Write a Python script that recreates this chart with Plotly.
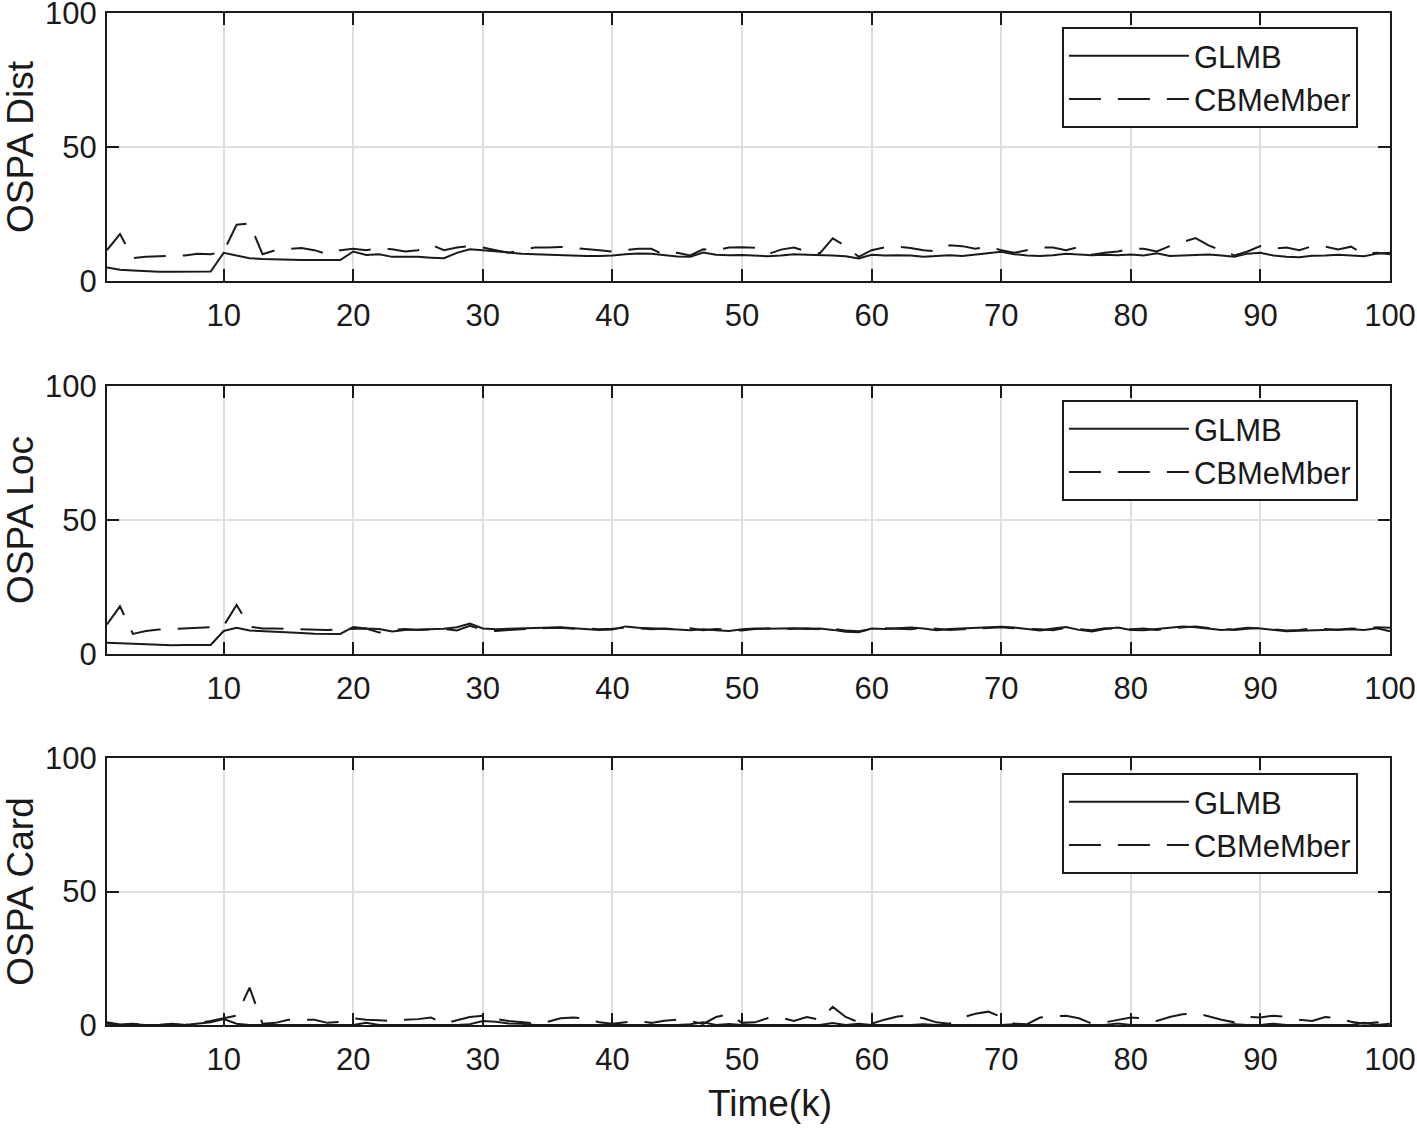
import plotly.graph_objects as go

k = list(range(1, 101))

glmb_dist = [5.0, 4.2, 3.9, 3.6, 3.4, 3.4, 3.5, 3.5, 3.5, 10.5,
             9.5, 8.5, 8.2, 8.0, 8.0, 7.8, 7.8, 7.8, 7.8, 11.0,
             9.7, 10.0, 9.0, 9.0, 9.0, 8.7, 8.5, 10.5, 11.8, 11.5,
             11.0, 10.5, 10.2, 10.0, 9.8, 9.7, 9.5, 9.3, 9.3, 9.5,
             10.0, 10.3, 10.2, 9.6, 9.1, 9.0, 10.6, 9.8, 9.6, 9.7,
             9.5, 9.2, 9.5, 10.0, 9.8, 9.7, 9.5, 9.2, 8.4, 9.8,
             9.5, 9.6, 9.5, 9.0, 9.2, 9.6, 9.3, 9.8, 10.3, 10.9,
             10.0, 9.5, 9.3, 9.6, 10.2, 9.8, 9.6, 9.8, 9.6, 9.9,
             9.5, 10.3, 9.3, 9.5, 9.7, 9.9, 9.5, 9.0, 10.2, 10.5,
             9.5, 9.0, 8.9, 9.4, 9.5, 9.8, 9.5, 9.2, 10.2, 10.5]
cbm_dist = [11.5, 17.5, 8.5, 9.0, 9.2, 9.5, 9.5, 10.2, 10.0, 11.0,
            21.0, 21.5, 10.0, 11.5, 12.0, 12.3, 11.5, 10.0, 11.5, 12.0,
            11.5, 12.2, 11.8, 11.0, 11.5, 13.5, 11.5, 12.5, 13.0, 12.5,
            11.5, 10.5, 11.5, 12.5, 12.5, 12.7, 12.3, 12.0, 11.5, 11.0,
            11.5, 12.0, 12.0, 9.8, 10.5, 9.5, 11.8, 11.5, 12.5, 12.6,
            12.4, 10.0, 11.7, 12.5, 11.0, 10.3, 15.9, 13.0, 9.0, 11.5,
            12.5, 12.8, 12.3, 11.5, 11.0, 13.3, 13.0, 12.0, 12.8, 11.5,
            10.5, 11.5, 12.5, 12.5, 11.5, 12.7, 9.8, 10.5, 11.0, 12.0,
            12.0, 11.0, 13.0, 14.5, 16.0, 13.3, 11.5, 9.5, 11.0, 13.0,
            12.0, 12.5, 11.5, 13.0, 12.8, 11.8, 12.8, 10.0, 10.5, 10.0]

glmb_loc = [4.2, 4.0, 3.8, 3.5, 3.3, 3.3, 3.4, 3.4, 3.4, 8.6,
            9.8, 8.8, 8.5, 8.3, 8.0, 7.8, 7.6, 7.5, 7.5, 10.1,
            9.5, 9.3, 8.4, 9.0, 9.2, 9.3, 9.4, 10.0, 11.4, 9.5,
            9.2, 9.4, 9.6, 9.6, 9.9, 10.0, 9.6, 9.2, 9.0, 9.1,
            10.3, 9.8, 9.5, 9.3, 9.1, 8.9, 9.2, 8.9, 8.6, 9.2,
            9.5, 9.4, 9.5, 9.6, 9.3, 9.5, 9.0, 8.3, 8.1, 9.5,
            9.3, 9.7, 9.9, 9.5, 8.9, 9.3, 9.5, 9.6, 10.0, 10.2,
            9.9, 9.3, 8.8, 9.5, 10.1, 9.0, 8.4, 9.3, 9.9, 9.0,
            8.9, 9.3, 9.8, 10.3, 10.0, 9.5, 9.0, 9.2, 9.8, 9.5,
            8.9, 8.5, 8.7, 8.9, 9.0, 9.1, 9.2, 9.0, 9.6, 8.5]
cbm_loc = [11.0, 17.8, 7.5, 8.6, 9.1, 9.3, 9.6, 9.8, 10.0, 10.5,
           18.3, 10.2, 9.5, 9.5, 9.4, 9.2, 9.0, 9.0, 9.2, 9.4,
           9.5, 8.0, 9.0, 9.3, 9.0, 9.2, 9.3, 8.8, 10.5, 9.0,
           8.6, 9.0, 9.3, 9.5, 9.7, 9.8, 9.4, 9.5, 9.2, 9.4,
           9.8, 9.6, 9.2, 9.5, 9.3, 9.6, 8.9, 9.3, 9.0, 8.8,
           9.3, 9.6, 9.2, 9.4, 9.6, 9.2, 9.4, 8.8, 8.5, 9.3,
           9.6, 9.4, 9.2, 9.8, 9.3, 9.0, 9.2, 9.5, 9.7, 10.0,
           9.6, 9.5, 9.2, 8.9, 9.8, 9.3, 8.9, 9.6, 9.4, 9.2,
           9.5, 9.0, 9.5, 9.9, 10.3, 9.7, 9.3, 9.0, 9.4, 9.8,
           9.2, 8.8, 9.0, 9.6, 9.3, 9.0, 9.5, 9.3, 10.0, 9.8]

glmb_card = [0.5, 0.0, 0.3, 0.0, 0.0, 0.3, 0.0, 0.5, 1.0, 2.2,
             0.5, 0.0, 0.0, 0.0, 0.0, 0.0, 0.0, 0.0, 0.0, 0.0,
             0.8, 0.0, 0.0, 0.0, 0.0, 0.0, 0.0, 0.0, 0.3, 1.5,
             1.2, 0.6, 0.5, 0.0, 0.0, 0.0, 0.0, 0.0, 0.0, 0.3,
             0.0, 0.0, 0.0, 0.0, 0.0, 0.3, 1.0, 0.0, 0.4, 0.0,
             0.0, 0.0, 0.0, 0.0, 0.0, 0.0, 0.7, 0.0, 0.5, 0.0,
             0.0, 0.0, 0.0, 0.3, 0.0, 0.0, 0.0, 0.0, 0.0, 0.0,
             0.3, 0.0, 0.0, 0.0, 0.0, 0.0, 0.0, 0.0, 0.6, 0.0,
             0.0, 0.0, 0.0, 0.0, 0.0, 0.0, 0.0, 0.3, 0.0, 0.0,
             0.5, 0.0, 0.0, 0.0, 0.0, 0.0, 0.0, 0.8, 0.0, 0.5]
cbm_card = [1.0, 0.2, 0.5, 0.0, 0.0, 0.5, 0.0, 0.7, 1.5, 2.5,
            3.5, 14.0, 0.5, 0.8, 2.0, 2.0, 2.0, 0.8, 1.2, 2.5,
            2.0, 1.8, 1.5, 2.0, 2.2, 2.8, 0.5, 1.8, 3.0, 3.5,
            2.2, 1.5, 1.0, 0.6, 1.2, 2.5, 2.8, 2.5, 1.0, 0.5,
            1.0, 1.5, 0.8, 1.6, 2.0, 1.5, 0.4, 3.0, 4.0, 0.8,
            1.0, 2.6, 2.8, 1.5, 3.0, 2.0, 6.8, 3.0, 1.0, 0.5,
            2.0, 3.2, 3.5, 2.5, 1.0, 0.5, 2.8, 4.2, 5.0, 3.0,
            0.5, 0.3, 2.8, 3.2, 3.5, 2.5, 0.5, 1.0, 2.0, 2.8,
            2.5, 1.5, 3.0, 4.0, 4.5, 3.2, 2.0, 1.0, 3.0, 2.8,
            3.5, 3.0, 2.0, 1.5, 3.0, 2.5, 1.2, 0.5, 1.0, 0.8]

panels = [("OSPA Dist", glmb_dist, cbm_dist),
          ("OSPA Loc", glmb_loc, cbm_loc),
          ("OSPA Card", glmb_card, cbm_card)]

domains = [[0.7352, 1.0], [0.3666, 0.6314], [0.0, 0.2638]]
legend_tops = [0.986, 0.6176, 0.249]

font = "Liberation Sans, Arial, Helvetica, sans-serif"
ink = "#1a1a1a"

fig = go.Figure()

for i, (ylabel, glmb, cbm) in enumerate(panels):
    n = "" if i == 0 else str(i + 1)
    leg = "legend" + n
    fig.add_trace(go.Scatter(x=k, y=glmb, mode="lines", name="GLMB",
                             line=dict(color=ink, width=2),
                             xaxis="x" + n, yaxis="y" + n, legend=leg))
    fig.add_trace(go.Scatter(x=k, y=cbm, mode="lines", name="CBMeMber",
                             line=dict(color=ink, width=2, dash="32px,17px"),
                             xaxis="x" + n, yaxis="y" + n, legend=leg))

    axis_style = dict(showline=True, linecolor=ink, linewidth=2, mirror="ticks",
                      ticks="inside", ticklen=12, tickwidth=2, tickcolor=ink,
                      showgrid=True, gridcolor="#dedede", gridwidth=2,
                      zeroline=False, automargin=False, ticklabeloverflow="allow",
                      tickfont=dict(family=font, size=31, color=ink))
    fig.layout["xaxis" + n] = dict(axis_style, domain=[0, 1], anchor="y" + n,
                                   range=[1, 100], tickvals=list(range(10, 101, 10)),
                                   ticklabelstandoff=6)
    fig.layout["yaxis" + n] = dict(axis_style, domain=domains[i], anchor="x" + n,
                                   range=[0, 100], tickvals=[0, 50, 100],
                                   ticklabelstandoff=2,
                                   title=dict(text=ylabel, font=dict(family=font, size=37, color=ink),
                                              standoff=36))
    fig.layout[leg] = dict(x=0.975, y=legend_tops[i], xanchor="right", yanchor="top",
                           bgcolor="white", bordercolor=ink, borderwidth=2,
                           font=dict(family=font, size=31, color=ink),
                           itemwidth=120, tracegroupgap=0)

# x label sits a little right of centre, as in the original figure
fig.add_annotation(text="Time(k)", xref="paper", yref="paper", x=0.517, y=-0.078,
                   xanchor="center", yanchor="middle", showarrow=False,
                   font=dict(family=font, size=37, color=ink))

fig.update_layout(width=1417, height=1132, paper_bgcolor="white", plot_bgcolor="white",
                  margin=dict(l=107, r=27, t=13, b=107), showlegend=True)

# drop the default 8px body margin so the figure fills the window exactly
fig.write_html("out.html", config={"displayModeBar": False},
               post_script="document.body.style.margin='0';")
